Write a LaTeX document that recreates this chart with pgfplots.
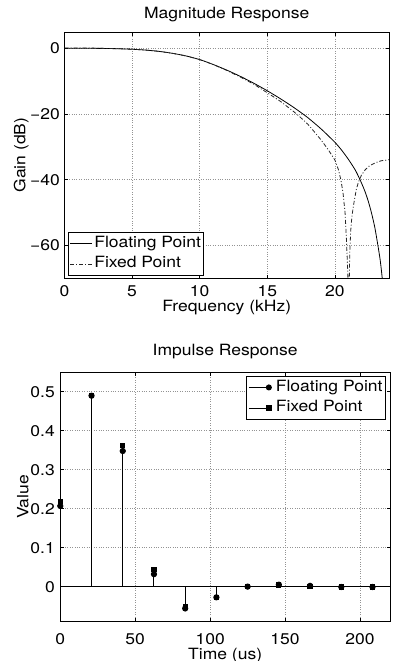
\documentclass[border=0pt]{standalone}
\usepackage{fontspec}
\setmainfont{TeX Gyre Heros}[FakeStretch=1.13]
\usepackage{pgfplots}
\pgfplotsset{compat=1.18}
\newcommand\fs{\fontsize{15.5bp}{18bp}\selectfont}

\pgfplotstableread{
f g
0 0.05
1 0.05
2 0.03
3 0.0
4 -0.1
5 -0.25
6 -0.5
7 -0.9
8 -1.5
9 -2.3
10 -3.4
11 -4.9
12 -6.6
13 -8.5
14 -10.6
15 -12.9
16 -15.4
17 -18.1
18 -21.1
19 -24.6
20 -28.6
20.5 -31.0
21 -33.8
21.5 -37.0
21.86 -40.0
22.2 -43.3
22.45 -46.3
22.7 -50.0
22.95 -54.5
23.18 -60
23.35 -64.5
23.5 -70
23.6 -75
}\floatmag

\pgfplotstableread{
f g
0 0.15
1 0.15
2 0.1
3 0.0
4 -0.1
5 -0.25
6 -0.5
7 -0.9
8 -1.5
9 -2.3
10 -3.4
11 -4.9
12 -6.7
13 -8.7
14 -10.9
15 -13.5
16 -16.2
17 -19.4
17.4 -20.8
18 -23.1
18.5 -25.5
19 -28.0
19.5 -30.8
20 -34.0
20.25 -36.8
20.44 -40.0
20.6 -44.0
20.75 -50.0
20.85 -58.0
20.95 -68
21.02 -80
21.1 -62
21.17 -55.4
21.25 -51.5
21.35 -48.4
21.47 -45.5
21.59 -42.8
21.75 -40.6
21.96 -38.6
22.25 -36.9
22.57 -35.7
23 -34.8
23.43 -34.2
24 -33.9
}\fixedmag

\pgfplotstableread{
t v
0 0.207
20.833 0.490
41.667 0.348
62.5 0.032
83.333 -0.056
104.167 -0.0275
125 0.0
145.833 0.005
166.667 0.002
187.5 -0.001
208.333 -0.001
}\floatimp

\pgfplotstableread{
t v
0 0.219
20.833 0.490
41.667 0.362
62.5 0.043
83.333 -0.051
104.167 -0.027
125 0.0
145.833 0.004
166.667 0.001
187.5 -0.001
208.333 -0.001
}\fixedimp

\begin{document}
\begin{tikzpicture}
\useasboundingbox (0,0) rectangle (394bp,661bp);
\pgfplotsset{
  mystyle/.style={
    scale only axis,
    axis line style={line width=1bp},
    tick style={black, line width=0.6bp},
    tick align=inside,
    major tick length=3.5bp,
    grid=major,
    major grid style={dotted, gray!85, line width=0.6bp},
    tick label style={font=\fs, inner sep=0pt},
    xticklabel style={anchor=base},
    yticklabel style={anchor=east},
    legend style={font=\fs, draw=black, line width=1bp, fill=white,
      inner xsep=1.5bp, inner ysep=1bp, row sep=0bp,
      nodes={inner sep=1.5bp, text height=12.5bp, text depth=5bp}},
    legend cell align=left,
  }
}
% Top: magnitude response
\begin{axis}[mystyle,
  at={(64.5bp,382.7bp)}, anchor=south west,
  width=324.5bp, height=246.3bp,
  xmin=0, xmax=24, ymin=-70, ymax=5,
  xtick={0,5,10,15,20}, xticklabels={0,5,10,15,20},
  ytick={-60,-40,-20,0}, yticklabels={−60,−40,−20,0},
  xticklabel style={yshift=-18.4bp},
  yticklabel style={xshift=-4.5bp},
  title={Magnitude Response},
  every axis title/.style={at={(axis description cs:0.5,1)}, anchor=base, yshift=13.7bp, font=\fs, inner sep=0pt},
  xlabel={Frequency (kHz)},
  every axis x label/.style={font=\fs, inner sep=0pt, at={(axis description cs:0.5,0)}, anchor=base, yshift=-33.7bp},
  ylabel={Gain (dB)},
  every axis y label/.style={font=\fs, inner sep=0pt, at={(axis description cs:-0.1202,0.5)}, anchor=base, rotate=90},
  legend style={at={(axis description cs:0,0)}, anchor=south west, xshift=3.5bp, yshift=2.3bp},
  legend image code/.code={\draw[#1] (0bp,0bp) -- (22bp,0bp);},
]
\addplot[black, line width=0.8bp, smooth, tension=0.4] table[x=f, y=g] {\floatmag};
\addlegendentry{Floating Point}
\addplot[black!85, line width=0.8bp, dash pattern=on 4bp off 2bp on 1bp off 2bp] table[x=f, y=g] {\fixedmag};
\addlegendentry{Fixed Point}
\end{axis}

% Bottom: impulse response
\begin{axis}[mystyle,
  at={(60.3bp,39.3bp)}, anchor=south west,
  width=329.7bp, height=249.4bp,
  xmin=0, xmax=220, ymin=-0.09, ymax=0.55,
  xtick={0,50,100,150,200}, xticklabels={0,50,100,150,200},
  ytick={0,0.1,0.2,0.3,0.4,0.5}, yticklabels={0,0.1,0.2,0.3,0.4,0.5},
  xticklabel style={yshift=-23bp},
  yticklabel style={xshift=-5.3bp},
  title={Impulse Response},
  every axis title/.style={at={(axis description cs:0.5,1)}, anchor=base, yshift=16.5bp, font=\fs, inner sep=0pt},
  xlabel={Time (us)},
  every axis x label/.style={font=\fs, inner sep=0pt, at={(axis description cs:0.5,0)}, anchor=base, yshift=-37.3bp},
  ylabel={Value},
  every axis y label/.style={font=\fs, inner sep=0pt, at={(axis description cs:-0.097,0.5)}, anchor=base, rotate=90},
  legend style={at={(axis description cs:1,1)}, anchor=north east, xshift=-4bp, yshift=-3.4bp},
  legend image code/.code={\path[draw=none] (-1bp,0bp) -- (25.5bp,0bp); \draw[#1, sharp plot, line width=0.8bp, mark phase=2] plot coordinates {(0bp,0bp) (20bp,0bp)};},
]
\addplot[black, line width=0.9bp, forget plot] coordinates {(0,0) (220,0)};
\addplot[black, line width=1bp, ycomb, mark=*, mark size=2.6bp, mark options={solid, fill=black}] table[x=t, y=v] {\floatimp};
\addlegendentry{Floating Point}
\addplot[black, line width=1bp, ycomb, mark=square*, mark size=2.1bp, mark options={solid, fill=black}] table[x=t, y=v] {\fixedimp};
\addlegendentry{Fixed Point}
\end{axis}
\end{tikzpicture}
\end{document}
